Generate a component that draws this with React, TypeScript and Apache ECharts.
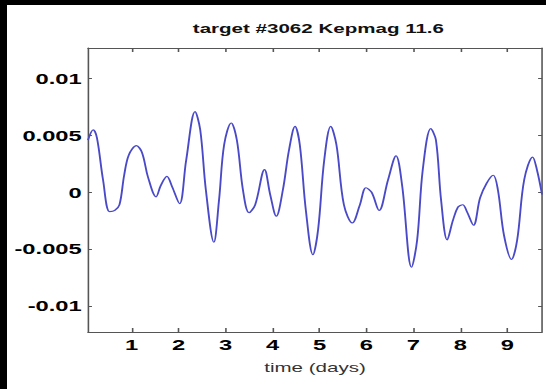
import React, { useEffect, useRef } from "react";
import * as echarts from "echarts";

const titleText = "target #3062 Kepmag 11.6";
const xName = "time (days)";
const xTicks = [1, 2, 3, 4, 5, 6, 7, 8, 9];
const xTickLabels = ["1", "2", "3", "4", "5", "6", "7", "8", "9"];
const yTicks = [-0.01, -0.005, 0, 0.005, 0.01];
const yTickLabels = ["-0.01", "-0.005", "0", "0.005", "0.01"];

const days = [
  0.07, 0.18, 0.26, 0.39, 0.53, 0.64, 0.74, 0.84, 0.94, 1.1, 1.22, 1.35, 1.52,
  1.62, 1.75, 1.86, 2.02, 2.16, 2.35, 2.46, 2.58, 2.75, 2.86, 2.97, 3.12, 3.24,
  3.37, 3.5, 3.63, 3.83, 3.95, 4.08, 4.22, 4.35, 4.48, 4.58, 4.71, 4.86, 4.97,
  5.1, 5.24, 5.36, 5.52, 5.7, 5.86, 5.99, 6.11, 6.27, 6.46, 6.63, 6.76, 6.96,
  7.08, 7.2, 7.37, 7.48, 7.59, 7.72, 7.84, 7.95, 8.05, 8.14, 8.28, 8.42, 8.56,
  8.7, 8.8, 8.93, 9.09, 9.21, 9.36, 9.54, 9.63, 9.74,
];
const flux = [
  0.0046, 0.0055, 0.0048, 0.0011, -0.0017, -0.0016, -0.0011, 0.0015, 0.0033,
  0.0041, 0.0035, 0.0013, -0.0004, 0.0006, 0.0014, 0.0005, -0.001, 0.0028,
  0.0071, 0.0055, 0.0002, -0.0044, -0.0007, 0.0042, 0.0061, 0.0046, 0.0002,
  -0.0018, -0.0011, 0.002, -0.0002, -0.0021, 0.0002, 0.0037, 0.0058, 0.0042,
  -0.0016, -0.0055, -0.0033, 0.0028, 0.0058, 0.0042, -0.0011, -0.0027, -0.0011,
  0.0004, 0.0, -0.0016, 0.0011, 0.0032, 0.0006, -0.0066, -0.0042, 0.002,
  0.0056, 0.0046, -0.0007, -0.0042, -0.0025, -0.0013, -0.0011, -0.0017,
  -0.0029, -0.0005, 0.0008, 0.0015, 0.0002, -0.0038, -0.0059, -0.0042, 0.0011,
  0.0031, 0.002, -0.0002,
];

const S = 539 / 341;

export default function App() {
  const ref = useRef<HTMLDivElement>(null);
  useEffect(() => {
    if (!ref.current) return;
    const chart = echarts.init(ref.current, null, { renderer: "svg" });
    const font = "Liberation Sans, Arial, Helvetica, sans-serif";
    const axisColor = "#555";
    const yLabel = (v: number) => {
      const i = yTicks.findIndex((t) => Math.abs(t - v) < 1e-9);
      return i >= 0 ? yTickLabels[i] : "";
    };
    const xLabel = (v: number) => {
      const i = xTicks.findIndex((t) => Math.abs(t - v) < 1e-9);
      return i >= 0 ? xTickLabels[i] : "";
    };
    const xMin = 0.07;
    const xMax = 9.74;
    const yMin = -0.0123;
    const yMax = 0.0127;
    chart.setOption({
      animation: false,
      backgroundColor: "#fff",
      title: {
        text: titleText,
        left: 192,
        top: 12,
        textAlign: "center",
        textStyle: { fontFamily: font, fontSize: 13, fontWeight: "bold", color: "#111" },
      },
      grid: {
        left: 51.25,
        right: 2.5,
        top: 43,
        bottom: 57,
        show: false,
        containLabel: false,
        outerBoundsMode: "none",
      },
      xAxis: [
        {
          type: "value",
          position: "bottom",
          min: xMin,
          max: xMax,
          axisLine: { show: true, onZero: false, lineStyle: { color: axisColor, width: 1 } },
          axisTick: { show: true, inside: true, length: 4, customValues: xTicks, lineStyle: { color: axisColor } },
          axisLabel: {
            customValues: xTicks,
            formatter: xLabel,
            fontFamily: font,
            fontSize: 15,
            fontWeight: "bold",
            color: "#000",
            margin: 5,
          },
          splitLine: { show: false },
          name: xName,
          nameLocation: "middle",
          nameGap: 29,
          nameTextStyle: { fontFamily: font, fontSize: 13, color: "#333" },
        },
        {
          type: "value",
          position: "top",
          min: xMin,
          max: xMax,
          axisLine: { show: true, onZero: false, lineStyle: { color: axisColor, width: 1 } },
          axisTick: { show: true, inside: true, length: 4, customValues: xTicks, lineStyle: { color: axisColor } },
          axisLabel: { show: false },
          splitLine: { show: false },
        },
      ],
      yAxis: [
        {
          type: "value",
          position: "left",
          min: yMin,
          max: yMax,
          axisLine: { show: true, onZero: false, lineStyle: { color: axisColor, width: 1 } },
          axisTick: { show: true, inside: true, length: 2.5, customValues: yTicks, lineStyle: { color: axisColor } },
          axisLabel: {
            customValues: yTicks,
            formatter: yLabel,
            fontFamily: font,
            fontSize: 15,
            fontWeight: "bold",
            color: "#000",
            margin: 4,
          },
          splitLine: { show: false },
        },
        {
          type: "value",
          position: "right",
          min: yMin,
          max: yMax,
          axisLine: { show: true, onZero: false, lineStyle: { color: axisColor, width: 1 } },
          axisTick: { show: true, inside: true, length: 2.5, customValues: yTicks, lineStyle: { color: axisColor } },
          axisLabel: { show: false },
          splitLine: { show: false },
        },
      ],
      series: [
        {
          type: "line",
          xAxisIndex: 0,
          yAxisIndex: 0,
          data: days.map((d, i) => [d, flux[i]]),
          smooth: 0.35,
          showSymbol: false,
          symbol: "none",
          lineStyle: { color: "#4a4ac8", width: 1.2 },
        },
      ],
    });
    return () => chart.dispose();
  }, []);

  return (
    <div
      style={{
        position: "fixed",
        left: 0,
        top: 0,
        width: 546,
        height: 389,
        background: "#000",
        overflow: "hidden",
      }}
    >
      <div
        style={{
          position: "absolute",
          left: 7,
          top: 5,
          width: 539,
          height: 384,
          background: "#fff",
          overflow: "hidden",
        }}
      >
        <div
          ref={ref}
          style={{
            width: 341,
            height: 384,
            transform: `scaleX(${S})`,
            transformOrigin: "0 0",
          }}
        />
      </div>
    </div>
  );
}
